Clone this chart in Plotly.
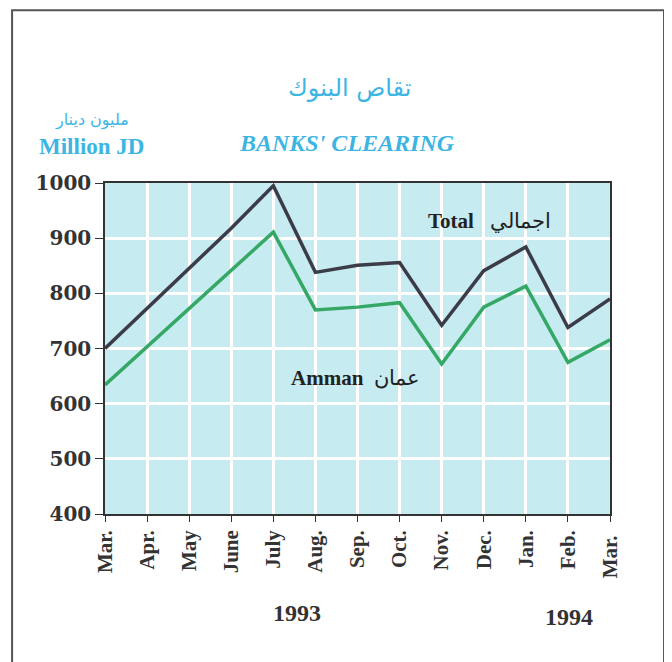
import plotly.graph_objects as go

# monthly banks' clearing, million JD (Mar 1993 - Mar 1994)
months = ["Mar.", "Apr.", "May", "June", "July", "Aug.", "Sep.",
          "Oct.", "Nov.", "Dec.", "Jan.", "Feb.", "Mar. "]
total = [700, 772, 845, 918, 995, 838, 851, 856, 742, 841, 884, 738, 790]
amman = [634, 703, 772, 842, 911, 770, 775, 783, 672, 775, 813, 675, 716]
years = ["1993", "1994"]

BLUE = "#3db5e3"
SERIF = "Liberation Serif, Times New Roman, DejaVu Serif, serif"
WIDE = "DejaVu Serif, serif"
AR = "DejaVu Sans, Noto Sans, sans-serif"

fig = go.Figure()
fig.add_trace(go.Scatter(x=months, y=total, mode="lines",
                         line=dict(color="#3b3c48", width=3.5)))
fig.add_trace(go.Scatter(x=months, y=amman, mode="lines",
                         line=dict(color="#36a866", width=3.5)))

ann = [
    dict(text="تقاص البنوك", x=0.485, y=1.288, font=dict(size=24, color=BLUE, family=AR)),
    dict(text="<i><b>BANKS' CLEARING</b></i>", x=0.48, y=1.12, font=dict(size=24, color=BLUE, family=SERIF)),
    dict(text="مليون دينار", x=-0.026, y=1.19, font=dict(size=16, color=BLUE, family=AR)),
    dict(text="<b>Million JD</b>", x=-0.026, y=1.11, font=dict(size=23, color=BLUE, family=SERIF)),
    dict(text="<b>Total</b>   اجمالي", x=0.762, y=0.885, font=dict(size=21, color="#222", family=SERIF)),
    dict(text="<b>Amman</b>  عمان", x=0.497, y=0.41, font=dict(size=21, color="#222", family=SERIF)),
    dict(text="<b>" + years[0] + "</b>", x=0.380, y=-0.299, font=dict(size=24, color="#333", family=SERIF)),
    dict(text="<b>" + years[1] + "</b>", x=0.919, y=-0.311, font=dict(size=24, color="#333", family=SERIF)),
]
for a in ann:
    a.update(xref="paper", yref="paper", showarrow=False, xanchor="center", yanchor="middle")

fig.update_layout(
    width=672, height=662,
    # page body adds 8px offset, so margins are shifted to compensate
    margin=dict(l=97, r=70, t=175, b=156),
    paper_bgcolor="white",
    plot_bgcolor="#c6ebf1",
    showlegend=False,
    annotations=ann,
    shapes=[dict(type="rect", xref="paper", yref="paper",
                 x0=-0.184, x1=1.107, y0=-0.5, y1=1.522,
                 line=dict(color="#555", width=2))],
)
fig.update_xaxes(
    range=[0, 12], showgrid=True, gridcolor="white", gridwidth=2.5,
    showline=True, linecolor="#333", linewidth=1.5, mirror=True,
    ticks="outside", tickcolor="#333", ticklen=6, tickangle=-90,
    tickfont=dict(family=SERIF, size=21, color="#333"),
    tickprefix="<b>", ticksuffix="</b>",
)
fig.update_yaxes(
    range=[400, 1000], dtick=100, showgrid=True, gridcolor="white", gridwidth=2.5,
    showline=True, linecolor="#333", linewidth=1.5, mirror=True,
    ticks="outside", tickcolor="#333", ticklen=8,
    tickfont=dict(family=WIDE, size=20, color="#333"),
    tickprefix="<b>", ticksuffix="</b>",
)

fig.write_html("out.html")
